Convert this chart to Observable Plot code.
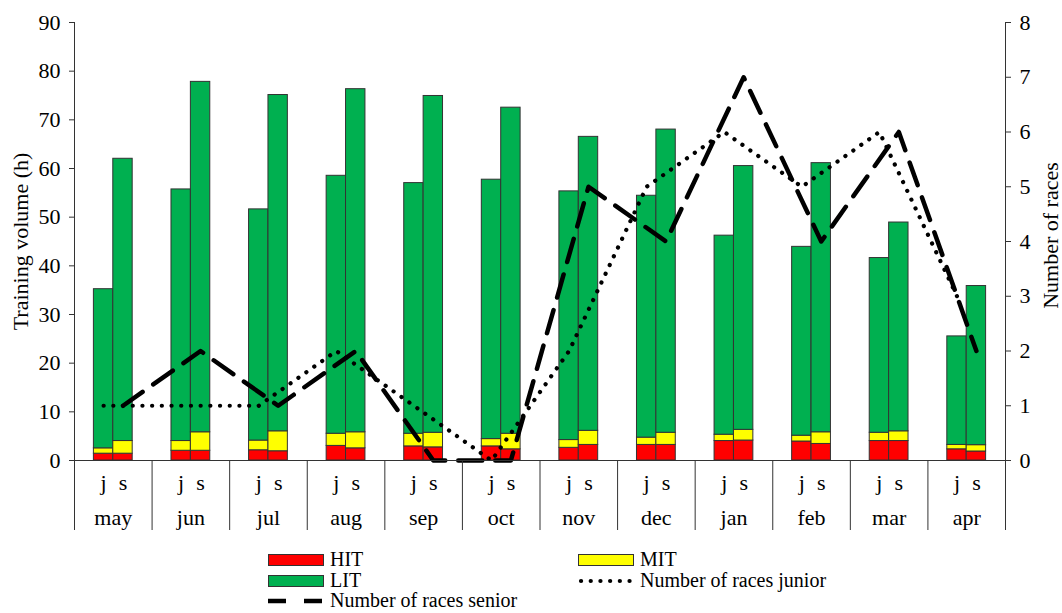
<!DOCTYPE html>
<html><head><meta charset="utf-8">
<script src="https://cdn.jsdelivr.net/npm/d3@7"></script>
<script src="https://cdn.jsdelivr.net/npm/@observablehq/plot@0.6"></script>
<style>
body{margin:0;background:#fff;font-family:"Liberation Serif","Times New Roman",serif;}
#wrap{position:relative;width:1062px;height:613px;overflow:hidden;}
#chart svg{display:block;}
.lt{position:absolute;font-size:20px;line-height:19px;height:19px;color:#000;white-space:nowrap;}
.sw{position:absolute;width:54px;height:10px;border:1px solid #333;}
.ls{position:absolute;}
</style></head><body><div id="wrap"><div id="chart"></div><div id="legend"></div></div>
<script>
const months = ["may","jun","jul","aug","sep","oct","nov","dec","jan","feb","mar","apr"];
const groups = ["j","s"];
const components = ["HIT","MIT","LIT"];
const colors = ["#FF0000","#FFFF00","#00B050"];
// junior training volume (h) per intensity zone
const hitJ = [1.4,2.0,2.1,3.0,2.9,2.9,2.6,3.2,4.0,3.9,4.0,2.3];
const mitJ = [1.1,2.0,2.0,2.5,2.6,1.5,1.6,1.5,1.3,1.2,1.7,0.9];
const litJ = [32.7,51.7,47.5,53.0,51.5,53.3,51.1,49.7,40.9,38.8,35.9,22.3];
// senior training volume (h) per intensity zone
const hitS = [1.4,2.0,1.9,2.5,2.7,2.3,3.2,3.2,4.1,3.4,4.0,1.85];
const mitS = [2.6,3.8,4.1,3.3,3.0,3.2,2.9,2.5,2.2,2.4,2.0,1.3];
const litS = [58.0,72.0,69.1,70.5,69.2,67.0,60.4,62.3,54.2,55.3,42.9,32.7];
// number of races
const racesJunior = [1,1,1,2,1,0,2,5,6,5,6,3];
const racesSenior = [1,2,1,2,0,0,5,4,7,4,6,2];
const volumeTicks = [0,10,20,30,40,50,60,70,80,90];
const raceTicks = [0,1,2,3,4,5,6,7,8];

const RACE_MAX = 8, VOL_MAX = 90, K = VOL_MAX / RACE_MAX;

const rows = [];
months.forEach((m, i) => {
  groups.forEach((g, gi) => {
    const vals = g === "j" ? [hitJ[i], mitJ[i], litJ[i]] : [hitS[i], mitS[i], litS[i]];
    let base = 0;
    components.forEach((c, ci) => {
      rows.push({month: m, i, group: g, comp: c, x1: i + 0.25 + gi * 0.25, x2: i + 0.5 + gi * 0.25, y1: base, y2: base + vals[ci]});
      base += vals[ci];
    });
  });
});
const lineRows = months.map((m, i) => ({i, junior: racesJunior[i], senior: racesSenior[i]}));
const sepTicks = d3.range(months.length + 1);
const monthTicks = months.map((m, i) => i + 0.5);
const groupTicks = months.flatMap((m, i) => [i + 0.375, i + 0.625]);

const chart = Plot.plot({
  width: 1062, height: 545,
  marginTop: 22, marginBottom: 85, marginLeft: 74, marginRight: 57,
  style: {fontFamily: "'Liberation Serif','Times New Roman',serif", fontSize: "22px", color: "#000", background: "#fff"},
  x: {domain: [0, months.length], axis: null},
  y: {domain: [0, VOL_MAX], axis: null},
  color: {domain: components, range: colors},
  marks: [
    Plot.rect(rows, {x1: "x1", x2: "x2", y1: "y1", y2: "y2", fill: "comp", stroke: "#333", strokeWidth: 1}),
    Plot.line(lineRows, {x: d => d.i + 0.375, y: d => d.junior * K, stroke: "#000", strokeWidth: 4.2, strokeDasharray: "0.1 9.6", strokeLinecap: "round"}),
    Plot.line(lineRows, {x: d => d.i + 0.625, y: d => d.senior * K, stroke: "#000", strokeWidth: 4.5, strokeDasharray: "24 13"}),
    Plot.ruleX([0, months.length], {stroke: "#333"}),
    Plot.ruleY([0], {stroke: "#333"}),
    Plot.axisY(volumeTicks, {anchor: "left", tickSize: 5, tickPadding: 9, label: null, stroke: "#333"}),
    Plot.axisY(raceTicks.map(v => v * K), {anchor: "right", tickSize: 5, tickPadding: 9, label: null, tickFormat: d => Math.round(d / K), stroke: "#333"}),
    Plot.axisX(sepTicks, {anchor: "bottom", tickSize: 70, tickFormat: () => "", label: null, stroke: "#333"}),
    Plot.axisX(groupTicks, {anchor: "bottom", tickSize: 0, tickPadding: 14, label: null, tickFormat: d => (d % 1 < 0.5 ? "j" : "s")}),
    Plot.axisX(monthTicks, {anchor: "bottom", tickSize: 0, tickPadding: 49, label: null, tickFormat: d => months[Math.floor(d)]}),
    Plot.text(["Training volume (h)"], {frameAnchor: "left", textAnchor: "middle", dx: -54, rotate: -90, fontSize: 22}),
    Plot.text(["Number of races"], {frameAnchor: "right", textAnchor: "middle", dx: 45, dy: -6, rotate: -90, fontSize: 22})
  ]
});
document.getElementById("chart").appendChild(chart);

// legend
const leg = document.getElementById("legend");
const items = [
  {label: "HIT", kind: "sw", color: colors[0], x: 268, y: 560},
  {label: "MIT", kind: "sw", color: colors[1], x: 578, y: 560},
  {label: "LIT", kind: "sw", color: colors[2], x: 268, y: 581},
  {label: "Number of races junior", kind: "dot", x: 578, y: 581},
  {label: "Number of races senior", kind: "dash", x: 268, y: 601}
];
items.forEach(it => {
  if (it.kind === "sw") {
    const s = document.createElement("div");
    s.className = "sw";
    s.style.left = it.x + "px"; s.style.top = (it.y - 6) + "px"; s.style.background = it.color;
    leg.appendChild(s);
  } else {
    const ns = "http://www.w3.org/2000/svg";
    const svg = document.createElementNS(ns, "svg");
    svg.setAttribute("width", 58); svg.setAttribute("height", 10);
    svg.setAttribute("class", "ls");
    svg.style.left = it.x + "px"; svg.style.top = (it.y - 5) + "px";
    const l = document.createElementNS(ns, "line");
    l.setAttribute("y1", 5); l.setAttribute("y2", 5);
    l.setAttribute("stroke", "#000");
    if (it.kind === "dot") {
      l.setAttribute("x1", 3); l.setAttribute("x2", 56);
      l.setAttribute("stroke-width", 4.2); l.setAttribute("stroke-dasharray", "0.1 9.6"); l.setAttribute("stroke-linecap", "round");
    } else {
      l.setAttribute("x1", 0); l.setAttribute("x2", 56);
      l.setAttribute("stroke-width", 4.5); l.setAttribute("stroke-dasharray", "18 18");
    }
    svg.appendChild(l);
    leg.appendChild(svg);
  }
  const t = document.createElement("div");
  t.className = "lt";
  t.textContent = it.label;
  t.style.left = (it.x + 62) + "px"; t.style.top = (it.y - 10) + "px";
  leg.appendChild(t);
});
</script></body></html>
